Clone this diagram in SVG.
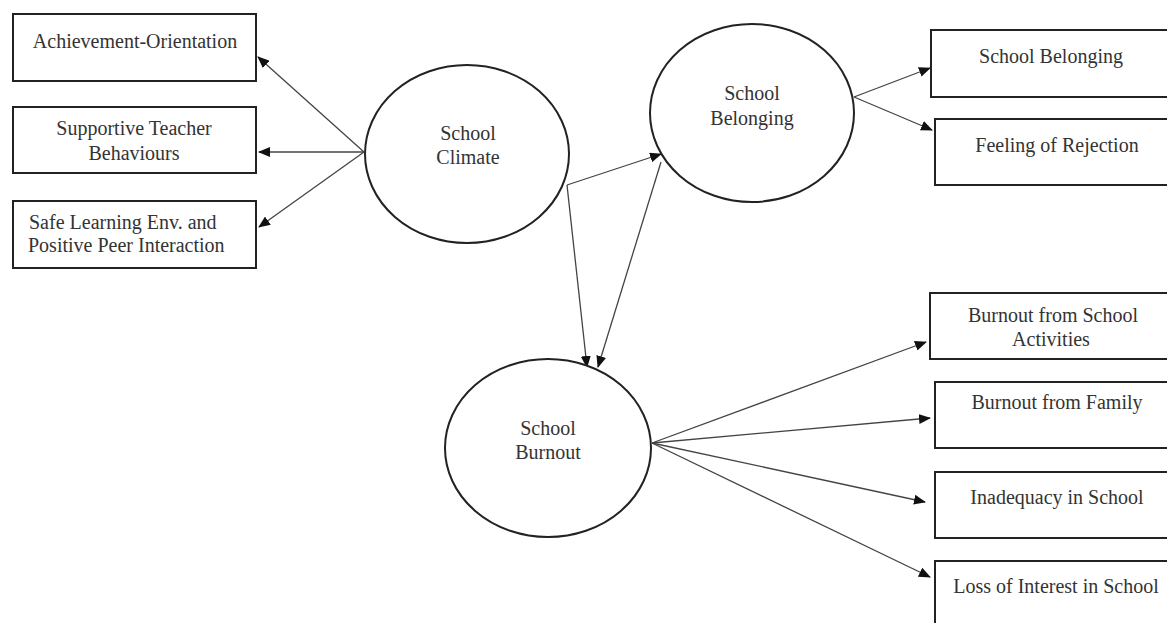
<svg xmlns="http://www.w3.org/2000/svg" width="1167" height="623" viewBox="0 0 1167 623">
<style>
.box{fill:#fff;stroke:#222;stroke-width:2}
.ell{fill:#fff;stroke:#222;stroke-width:2}
.lbl{font-family:"Liberation Serif","Times New Roman",serif;font-size:20px;fill:#333;text-anchor:middle}
.lbl-l{font-family:"Liberation Serif","Times New Roman",serif;font-size:20px;fill:#333;text-anchor:start}
.edge{stroke:#444;stroke-width:1.3;fill:none;marker-end:url(#ah)}
</style>
<defs>
<marker id="ah" markerUnits="userSpaceOnUse" markerWidth="12" markerHeight="10" refX="11" refY="5" orient="auto">
<path d="M0,0 L12,5 L0,10 Z" fill="#111"/>
</marker>
</defs>
<rect width="1167" height="623" fill="#fff"/>

<g id="connectors">
<line class="edge" x1="364" y1="152" x2="258" y2="57"/>
<line class="edge" x1="364" y1="152" x2="259" y2="152"/>
<line class="edge" x1="364" y1="152" x2="259" y2="227"/>
<line class="edge" x1="567" y1="185" x2="661" y2="154"/>
<line class="edge" x1="567" y1="185" x2="587" y2="367"/>
<line class="edge" x1="661" y1="162" x2="598" y2="367"/>
<line class="edge" x1="854" y1="97" x2="930" y2="68"/>
<line class="edge" x1="854" y1="97" x2="932" y2="130"/>
<line class="edge" x1="652" y1="443" x2="926" y2="342"/>
<line class="edge" x1="652" y1="443" x2="930" y2="418"/>
<line class="edge" x1="652" y1="443" x2="925" y2="502"/>
<line class="edge" x1="652" y1="443" x2="930" y2="577"/>
</g>

<g id="n-achievement">
<rect class="box" x="13" y="14" width="243" height="67"/>
<text class="lbl" x="135" y="48">Achievement-Orientation</text>
</g>
<g id="n-supportive">
<rect class="box" x="13" y="107" width="243" height="66"/>
<text class="lbl" x="134" y="135">Supportive Teacher</text>
<text class="lbl" x="134" y="160">Behaviours</text>
</g>
<g id="n-safe">
<rect class="box" x="13" y="201" width="243" height="67"/>
<text class="lbl-l" x="29" y="229">Safe Learning Env. and</text>
<text class="lbl-l" x="28" y="252">Positive Peer Interaction</text>
</g>

<g id="n-climate">
<ellipse class="ell" cx="467" cy="154" rx="102" ry="89"/>
<text class="lbl" x="468" y="140">School</text>
<text class="lbl" x="468" y="164">Climate</text>
</g>
<g id="n-belonging">
<ellipse class="ell" cx="752" cy="113" rx="102" ry="89"/>
<text class="lbl" x="752" y="100">School</text>
<text class="lbl" x="752" y="125">Belonging</text>
</g>
<g id="n-burnout">
<ellipse class="ell" cx="548" cy="448" rx="103" ry="89"/>
<text class="lbl" x="548" y="435">School</text>
<text class="lbl" x="548" y="459">Burnout</text>
</g>

<g id="n-sb">
<rect class="box" x="931" y="30" width="245" height="67"/>
<text class="lbl" x="1051" y="63">School Belonging</text>
</g>
<g id="n-rej">
<rect class="box" x="935" y="119" width="245" height="66"/>
<text class="lbl" x="1057" y="152">Feeling of Rejection</text>
</g>
<g id="n-bsa">
<rect class="box" x="930" y="293" width="245" height="66"/>
<text class="lbl" x="1053" y="322">Burnout from School</text>
<text class="lbl" x="1051" y="346">Activities</text>
</g>
<g id="n-bf">
<rect class="box" x="935" y="382" width="245" height="66"/>
<text class="lbl" x="1057" y="409">Burnout from Family</text>
</g>
<g id="n-inad">
<rect class="box" x="935" y="472" width="245" height="66"/>
<text class="lbl" x="1057" y="504">Inadequacy in School</text>
</g>
<g id="n-loss">
<rect class="box" x="935" y="561" width="245" height="80"/>
<text class="lbl" x="1056" y="593">Loss of Interest in School</text>
</g>
</svg>
